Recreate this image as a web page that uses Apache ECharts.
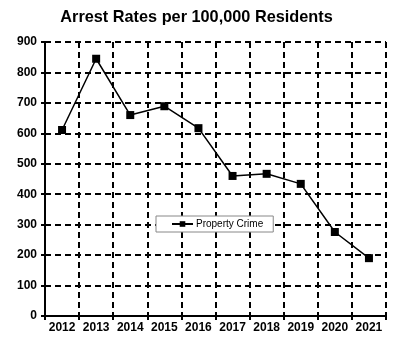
<!DOCTYPE html>
<html><head><meta charset="utf-8">
<script src="https://cdn.jsdelivr.net/npm/echarts@6/dist/echarts.min.js"></script>
<style>html,body{margin:0;padding:0;background:#fff}#c{width:393px;height:337px}</style>
</head><body><div id="c"></div>
<script>
var years = ['2012','2013','2014','2015','2016','2017','2018','2019','2020','2021'];
var propertyCrime = [611, 845, 660, 689, 617, 460, 467, 434, 276, 190];
var yTicks = [0,100,200,300,400,500,600,700,800,900];
var chart = echarts.init(document.getElementById('c'));
var font = '"Liberation Sans", Arial, sans-serif';
chart.setOption({
  animation: false,
  backgroundColor: '#fff',
  title: {text: 'Arrest Rates per 100,000 Residents', left: 'center', top: 5,
    textStyle: {fontFamily: font, fontWeight: 'bold', fontSize: 16.3, color: '#000'}},
  legend: {data: ['Property Crime'], left: 156, top: 216, orient: 'horizontal',
    backgroundColor: '#fff', borderColor: '#888', borderWidth: 1, padding: [3, 10, 3, 15],
    itemWidth: 21, itemHeight: 7, itemGap: 4,
    textStyle: {fontFamily: font, fontSize: 10, color: '#000', padding: [0, 0, 0, -2]}},
  grid: {left: 45, right: 7, top: 42, bottom: 21},
  xAxis: {type: 'category', data: years, boundaryGap: true,
    axisLine: {lineStyle: {color: '#000', width: 2}},
    axisTick: {show: true, interval: 0, length: 4, lineStyle: {color: '#000', width: 2}},
    axisLabel: {interval: 0, hideOverlap: false, fontFamily: font, fontWeight: 'bold', fontSize: 12, color: '#000', margin: 6},
    splitLine: {show: true, interval: 0, lineStyle: {color: '#000', width: 2, type: [6, 4]}}},
  yAxis: {type: 'value', min: 0, max: 900, interval: 100,
    axisLine: {show: true, lineStyle: {color: '#000', width: 2}},
    axisTick: {show: true, length: 4, lineStyle: {color: '#000', width: 2}},
    axisLabel: {fontFamily: font, fontWeight: 'bold', fontSize: 12, color: '#000', margin: 8},
    splitLine: {show: true, lineStyle: {color: '#000', width: 2, type: [6, 4]}}},
  series: [{name: 'Property Crime', type: 'line', data: propertyCrime,
    symbol: 'rect', symbolSize: 8, itemStyle: {color: '#000'},
    lineStyle: {color: '#000', width: 1.5}}]
});
</script></body></html>
